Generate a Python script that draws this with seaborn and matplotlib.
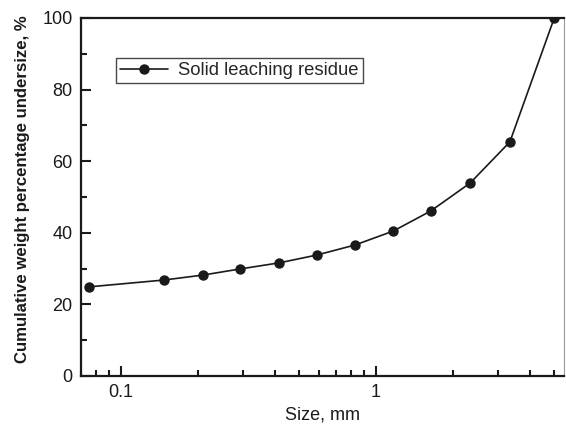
import matplotlib
matplotlib.use("Agg")
import matplotlib.pyplot as plt
import matplotlib.ticker as mticker
import seaborn as sns
import pandas as pd

# Particle size distribution of the solid leaching residue
size_mm = [0.075, 0.147, 0.21, 0.293, 0.417, 0.587, 0.828, 1.17, 1.64, 2.34, 3.35, 5.0]
undersize_pct = [24.9, 26.8, 28.2, 29.9, 31.6, 33.8, 36.6, 40.5, 46.1, 53.9, 65.4, 100.0]
series_name = "Solid leaching residue"

df = pd.DataFrame({"size": size_mm, "undersize": undersize_pct, "series": series_name})

sns.set_theme(style="ticks")
plt.rcParams["font.family"] = ["Liberation Sans", "DejaVu Sans"]

ink = "#1a1a1a"
fig = plt.figure(figsize=(5.66, 4.26), dpi=100)
ax = fig.add_axes([81 / 566, 50 / 426, (564 - 81) / 566, (376 - 18) / 426])

sns.lineplot(data=df, x="size", y="undersize", hue="series", palette=[ink],
             marker="o", markersize=7.5, markeredgewidth=0, linewidth=1.2, ax=ax)

ax.set_xscale("log")
ax.set_xlim(0.0697, 5.46)
ax.set_ylim(0, 100)
ax.xaxis.set_major_locator(mticker.FixedLocator([0.1, 1]))
ax.xaxis.set_major_formatter(mticker.FixedFormatter(["0.1", "1"]))
ax.xaxis.set_minor_locator(mticker.LogLocator(base=10, subs=range(2, 10)))
ax.xaxis.set_minor_formatter(mticker.NullFormatter())
ax.yaxis.set_major_locator(mticker.MultipleLocator(20))
ax.yaxis.set_minor_locator(mticker.MultipleLocator(10))

ax.tick_params(which="both", direction="in", colors=ink, labelsize=13,
               top=False, right=False, pad=6)
ax.tick_params(which="major", length=7, width=1.5)
ax.tick_params(which="minor", length=4.5, width=1.5)
for s in ["left", "bottom", "top"]:
    ax.spines[s].set_color(ink)
    ax.spines[s].set_linewidth(1.6)
ax.spines["right"].set_color("#999999")
ax.spines["right"].set_linewidth(0.8)

ax.set_xlabel("Size, mm", fontsize=13, color=ink, labelpad=4)
ax.set_ylabel("Cumulative weight percentage undersize, %", fontsize=12.1,
              fontweight="bold", color=ink)
ax.yaxis.set_label_coords((30 - 81) / 483, (376 - 189) / 358)

leg = ax.legend(loc="upper left", bbox_to_anchor=((116 - 81) / 483, (376 - 58) / 358),
                frameon=True, fancybox=False, fontsize=13.3, handlelength=2.6,
                handletextpad=0.55, borderpad=0.22, borderaxespad=0)
leg.get_frame().set_edgecolor(ink)
leg.get_frame().set_linewidth(1.0)

fig.savefig("out.png", dpi=100)
